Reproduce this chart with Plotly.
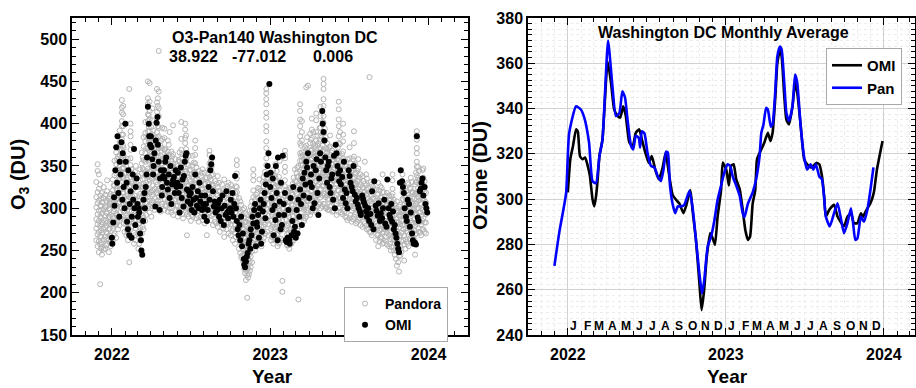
import calendar
import plotly.graph_objects as go

# ---------------- Left panel: individual retrievals ----------------
# Pandora total-column ozone (DU), grouped by observation day
PANDORA_OBS = [
    ("2021-11-26", [262, 276, 287, 301, 313, 331]),
    ("2021-11-29", [255, 269, 281, 293, 306, 319, 344, 352]),
    ("2021-12-02", [248, 261, 272, 285, 297, 309, 323, 340]),
    ("2021-12-05", [210, 257, 267, 279, 290, 303, 315, 328]),
    ("2021-12-07", [252, 259, 266, 274, 281, 288, 297, 303, 311]),
    ("2021-12-09", [245, 254, 271, 283, 294, 307, 318]),
    ("2021-12-13", [251, 263, 276, 286, 299, 312, 325]),
    ("2021-12-17", [252, 266, 277, 291, 302, 316]),
    ("2021-12-19", [256, 263, 272, 279, 286, 295, 301, 309]),
    ("2021-12-21", [258, 270, 283, 294, 307, 320, 333]),
    ("2021-12-25", [248, 263, 275, 289, 300, 311]),
    ("2021-12-27", [260, 268, 276, 283, 290, 298, 307, 314]),
    ("2021-12-29", [255, 267, 281, 292, 305, 317]),
    ("2022-01-03", [262, 276, 291, 304, 321, 334]),
    ("2022-01-05", [268, 279, 288, 296, 307, 316, 327]),
    ("2022-01-07", [270, 283, 299, 311, 327, 339, 356]),
    ("2022-01-11", [265, 281, 294, 310, 324, 341, 352, 366]),
    ("2022-01-13", [283, 292, 303, 312, 321, 331, 345, 358]),
    ("2022-01-15", [275, 289, 306, 317, 333, 345, 361, 372]),
    ("2022-01-19", [280, 295, 307, 323, 335, 351, 363, 378, 392]),
    ("2022-01-21", [288, 301, 314, 327, 343, 355, 370]),
    ("2022-01-24", [300, 313, 323, 337, 347, 361, 369, 381, 387, 397, 403, 413, 419, 428]),
    ("2022-01-27", [290, 306, 319, 335, 347, 363, 374, 387, 397, 411, 421]),
    ("2022-01-28", [282, 296, 309, 323, 336, 348, 362, 371]),
    ("2022-01-30", [272, 286, 297, 313, 325, 341, 354]),
    ("2022-02-03", [268, 281, 291, 305, 315, 329, 342]),
    ("2022-02-05", [274, 286, 297, 309, 320, 334]),
    ("2022-02-07", [262, 277, 289, 304, 315, 331, 344, 358]),
    ("2022-02-10", [236, 270, 285, 297, 313, 325, 341, 441]),
    ("2022-02-13", [290, 303, 313, 327, 337, 351, 359, 369, 375, 385, 391, 400]),
    ("2022-02-15", [278, 287, 296, 308, 319, 331, 346]),
    ("2022-02-17", [265, 279, 289, 303, 314, 329]),
    ("2022-02-21", [258, 271, 282, 297, 308, 323, 336]),
    ("2022-02-23", [268, 280, 291, 304, 315, 328, 343]),
    ("2022-02-25", [262, 276, 287, 301, 311, 326, 337, 350]),
    ("2022-03-03", [252, 269, 281, 297, 309, 325, 338]),
    ("2022-03-05", [258, 273, 286, 299, 314, 327]),
    ("2022-03-07", [262, 277, 289, 305, 317, 333, 346]),
    ("2022-03-11", [270, 285, 297, 313, 325, 341, 353, 366]),
    ("2022-03-13", [278, 291, 306, 321, 334, 347, 360]),
    ("2022-03-15", [275, 289, 301, 317, 329, 345, 357, 373, 384]),
    ("2022-03-19", [285, 299, 311, 327, 339, 355, 365, 379, 389, 402]),
    ("2022-03-21", [292, 306, 318, 330, 344, 358, 371, 385]),
    ("2022-03-25", [300, 313, 323, 337, 347, 361, 371, 383, 391, 403, 411, 423, 430, 450]),
    ("2022-03-27", [303, 317, 329, 341, 355, 369, 379, 396, 410]),
    ("2022-03-29", [295, 309, 319, 333, 343, 357, 367, 381, 391, 405, 415, 426, 448]),
    ("2022-04-02", [290, 306, 319, 336, 349, 366, 379, 396]),
    ("2022-04-04", [309, 321, 335, 349, 361, 374, 387, 404, 418]),
    ("2022-04-06", [302, 316, 327, 342, 353, 368, 379, 392]),
    ("2022-04-10", [298, 312, 323, 338, 349, 364, 376]),
    ("2022-04-13", [304, 318, 331, 343, 357, 371, 383]),
    ("2022-04-15", [305, 318, 328, 342, 352, 366, 376, 390, 400, 414, 425, 441]),
    ("2022-04-17", [309, 321, 335, 347, 360, 373, 384, 397, 408, 421, 430]),
    ("2022-04-19", [300, 313, 323, 337, 347, 361, 371, 385, 395, 409, 418, 438, 486]),
    ("2022-04-23", [296, 310, 321, 336, 347, 362, 374]),
    ("2022-04-25", [302, 316, 328, 340, 353, 368, 380]),
    ("2022-04-27", [305, 319, 330, 345, 356, 371, 382, 395]),
    ("2022-05-02", [298, 311, 321, 335, 345, 359, 369, 383, 394]),
    ("2022-05-04", [304, 318, 330, 342, 356, 370]),
    ("2022-05-06", [302, 315, 325, 339, 349, 362]),
    ("2022-05-10", [296, 309, 319, 333, 343, 357, 367, 380]),
    ("2022-05-12", [306, 317, 330, 342, 352, 363, 375]),
    ("2022-05-14", [300, 313, 323, 337, 347, 361, 390]),
    ("2022-05-18", [295, 308, 318, 332, 342, 356, 367]),
    ("2022-05-20", [300, 313, 326, 339, 350, 361]),
    ("2022-05-22", [292, 305, 315, 329, 339, 353, 364, 398]),
    ("2022-05-27", [298, 311, 321, 335, 345, 358]),
    ("2022-05-29", [303, 317, 328, 341, 352]),
    ("2022-06-02", [290, 303, 313, 327, 337, 350]),
    ("2022-06-04", [297, 310, 321, 332, 345, 357]),
    ("2022-06-06", [294, 307, 317, 331, 341, 355, 366]),
    ("2022-06-10", [298, 311, 321, 335, 345, 359, 369, 382, 402]),
    ("2022-06-12", [293, 305, 318, 331, 342, 353, 364]),
    ("2022-06-14", [288, 301, 311, 325, 335, 348]),
    ("2022-06-19", [300, 312, 321, 334, 343, 356, 365, 377, 383, 393, 400]),
    ("2022-06-21", [296, 309, 320, 331, 344, 357, 370, 386]),
    ("2022-06-23", [268, 293, 303, 317, 327, 341, 352]),
    ("2022-06-27", [290, 303, 313, 327, 337, 351, 362]),
    ("2022-06-29", [296, 308, 321, 334, 345]),
    ("2022-07-02", [285, 298, 308, 322, 332, 345]),
    ("2022-07-04", [292, 305, 316, 327, 340]),
    ("2022-07-06", [290, 303, 313, 327, 337, 351, 362]),
    ("2022-07-09", [295, 307, 318, 329, 342, 354]),
    ("2022-07-12", [296, 309, 319, 333, 343, 353, 363, 371, 380]),
    ("2022-07-15", [288, 301, 311, 325, 335, 348]),
    ("2022-07-18", [291, 304, 315, 326, 339]),
    ("2022-07-20", [284, 297, 307, 321, 331, 344]),
    ("2022-07-25", [290, 303, 313, 327, 338]),
    ("2022-07-27", [294, 305, 318, 331, 342]),
    ("2022-07-29", [286, 299, 309, 323, 333, 346]),
    ("2022-08-03", [282, 295, 305, 319, 329, 342]),
    ("2022-08-05", [289, 301, 312, 323, 336]),
    ("2022-08-08", [268, 289, 299, 313, 323, 336]),
    ("2022-08-11", [293, 304, 317, 330, 341]),
    ("2022-08-14", [295, 307, 316, 329, 337, 347, 353, 363, 368]),
    ("2022-08-17", [286, 299, 309, 323, 333, 347, 356]),
    ("2022-08-19", [291, 302, 315, 328, 339, 350]),
    ("2022-08-22", [280, 293, 303, 317, 327, 340]),
    ("2022-08-27", [284, 297, 307, 321, 332]),
    ("2022-08-30", [282, 293, 306, 317, 329]),
    ("2022-09-02", [278, 291, 301, 315, 325, 338]),
    ("2022-09-05", [284, 295, 307, 320, 330]),
    ("2022-09-07", [272, 285, 295, 309, 320]),
    ("2022-09-12", [280, 293, 303, 317, 328]),
    ("2022-09-15", [276, 288, 298, 310, 321]),
    ("2022-09-17", [266, 279, 289, 303, 313, 334]),
    ("2022-09-22", [275, 288, 298, 312, 323]),
    ("2022-09-25", [281, 291, 303, 316, 326]),
    ("2022-09-27", [270, 283, 293, 307, 317, 330]),
    ("2022-10-02", [268, 281, 291, 305, 315, 328]),
    ("2022-10-05", [273, 286, 297, 308, 321]),
    ("2022-10-07", [262, 275, 285, 299, 309, 322]),
    ("2022-10-12", [258, 271, 281, 295, 305, 318]),
    ("2022-10-14", [266, 276, 289, 302, 313, 326]),
    ("2022-10-16", [288, 299, 307, 319, 325, 335, 341, 351, 357]),
    ("2022-10-21", [252, 265, 275, 289, 299, 312]),
    ("2022-10-24", [247, 261, 272, 283, 296, 308]),
    ("2022-10-26", [242, 257, 267, 281, 291, 304]),
    ("2022-10-28", [244, 255, 268, 281, 292]),
    ("2022-10-30", [238, 251, 261, 275, 285, 298]),
    ("2022-11-02", [228, 241, 251, 265, 275, 289, 300]),
    ("2022-11-04", [223, 235, 246, 257, 270, 283, 294]),
    ("2022-11-06", [215, 226, 235, 249, 259, 273, 284]),
    ("2022-11-09", [194, 221, 231, 245, 255, 269, 279, 292]),
    ("2022-11-11", [218, 229, 240, 251, 263, 276, 287]),
    ("2022-11-13", [222, 235, 245, 259, 269, 282]),
    ("2022-11-15", [226, 237, 250, 263, 273, 285, 297]),
    ("2022-11-17", [230, 243, 253, 267, 277, 291, 302]),
    ("2022-11-20", [236, 249, 260, 271, 284, 297, 308]),
    ("2022-11-23", [262, 273, 281, 293, 301, 313, 321, 333, 339, 346]),
    ("2022-11-27", [250, 263, 273, 287, 297, 310]),
    ("2022-11-29", [256, 267, 280, 293, 304, 316]),
    ("2022-12-02", [258, 271, 281, 295, 305, 318]),
    ("2022-12-04", [264, 275, 288, 301, 312, 324]),
    ("2022-12-07", [262, 275, 285, 299, 309, 323, 334]),
    ("2022-12-10", [259, 271, 284, 296, 309, 321]),
    ("2022-12-12", [255, 268, 278, 292, 302, 315]),
    ("2022-12-15", [261, 274, 285, 298, 309, 320, 331]),
    ("2022-12-17", [265, 278, 288, 302, 312, 326, 337]),
    ("2022-12-20", [270, 281, 294, 307, 318, 330, 343]),
    ("2022-12-23", [300, 311, 319, 331, 339, 351, 359, 371, 379, 391, 397, 407, 413, 423, 429, 436, 441]),
    ("2022-12-26", [272, 285, 298, 311, 323, 335]),
    ("2022-12-28", [268, 281, 291, 305, 315, 329, 340]),
    ("2023-01-03", [262, 275, 285, 299, 309, 323, 334]),
    ("2023-01-05", [266, 278, 292, 305, 317, 328, 340]),
    ("2023-01-08", [258, 271, 281, 295, 305, 319, 329, 345]),
    ("2023-01-11", [262, 277, 289, 301, 314, 324, 338]),
    ("2023-01-13", [265, 278, 288, 302, 312, 326, 336, 352]),
    ("2023-01-16", [269, 281, 295, 308, 320, 332, 344]),
    ("2023-01-18", [255, 268, 278, 292, 302, 316, 327]),
    ("2023-01-21", [258, 274, 287, 299, 312, 326, 337]),
    ("2023-01-23", [260, 273, 283, 297, 307, 321, 331, 356]),
    ("2023-01-26", [264, 277, 291, 304, 316, 328]),
    ("2023-01-29", [201, 214, 262, 275, 285, 299, 310]),
    ("2023-02-04", [295, 306, 314, 326, 333, 343, 349, 359, 363, 368]),
    ("2023-02-07", [262, 275, 286, 297, 310, 322]),
    ("2023-02-09", [256, 269, 279, 293, 303, 316]),
    ("2023-02-12", [256, 271, 282, 295, 307, 320]),
    ("2023-02-14", [252, 265, 275, 289, 299, 313, 324]),
    ("2023-02-17", [261, 273, 286, 298, 311, 323]),
    ("2023-02-19", [258, 271, 281, 295, 305, 318]),
    ("2023-02-22", [266, 280, 291, 303, 316, 329]),
    ("2023-02-24", [262, 275, 285, 299, 309, 323, 336]),
    ("2023-02-27", [272, 283, 296, 309, 320, 332, 346]),
    ("2023-03-03", [270, 283, 293, 307, 317, 331, 342]),
    ("2023-03-05", [276, 289, 300, 311, 324, 337, 348]),
    ("2023-03-07", [192, 279, 289, 303, 313, 327, 337, 350]),
    ("2023-03-11", [300, 312, 321, 334, 343, 356, 365, 377, 385, 397, 405, 415, 423]),
    ("2023-03-13", [290, 303, 314, 325, 338, 351, 362, 374]),
    ("2023-03-15", [295, 308, 318, 332, 342, 356, 366, 380, 390, 403]),
    ("2023-03-17", [290, 302, 315, 328, 339, 351, 363]),
    ("2023-03-20", [285, 298, 308, 322, 332, 346, 357]),
    ("2023-03-22", [288, 301, 312, 323, 336, 349, 361, 372]),
    ("2023-03-25", [290, 303, 313, 327, 337, 351, 361, 374, 443]),
    ("2023-03-27", [298, 309, 322, 335, 346, 358, 370, 384]),
    ("2023-03-29", [295, 308, 318, 332, 342, 356, 367, 445]),
    ("2023-04-03", [292, 305, 315, 329, 339, 353, 363, 377, 388]),
    ("2023-04-05", [296, 309, 320, 331, 344, 357, 368, 381]),
    ("2023-04-07", [298, 311, 321, 335, 345, 359, 369, 383, 393, 406]),
    ("2023-04-10", [302, 314, 327, 341, 352, 365, 376, 390]),
    ("2023-04-12", [300, 313, 323, 337, 347, 361, 372]),
    ("2023-04-15", [298, 312, 324, 335, 349, 362, 374]),
    ("2023-04-17", [295, 308, 318, 332, 342, 356, 366, 380, 390, 404, 412]),
    ("2023-04-20", [302, 315, 326, 337, 350, 363, 374, 386]),
    ("2023-04-22", [305, 318, 328, 342, 352, 366, 377]),
    ("2023-04-25", [306, 317, 331, 344, 356, 367, 381, 395]),
    ("2023-04-27", [300, 313, 323, 337, 347, 361, 371, 385, 395, 409, 420]),
    ("2023-05-02", [302, 315, 326, 337, 350, 363, 374, 388, 402]),
    ("2023-05-04", [305, 317, 326, 339, 348, 361, 369, 381, 389, 401, 409, 421, 429, 441, 447, 453]),
    ("2023-05-07", [305, 317, 330, 344, 355, 367, 380, 394]),
    ("2023-05-09", [300, 313, 323, 337, 347, 361, 371, 384]),
    ("2023-05-12", [301, 315, 327, 339, 352, 366, 377]),
    ("2023-05-14", [298, 311, 321, 335, 345, 359, 370]),
    ("2023-05-17", [298, 310, 323, 337, 348, 359, 372]),
    ("2023-05-19", [302, 315, 325, 339, 349, 363, 373, 386]),
    ("2023-05-22", [303, 317, 328, 340, 353, 366]),
    ("2023-05-24", [296, 309, 319, 333, 343, 357, 368]),
    ("2023-05-27", [297, 310, 321, 332, 345, 357]),
    ("2023-05-29", [300, 313, 323, 337, 347, 360]),
    ("2023-06-03", [292, 305, 315, 329, 339, 353, 364]),
    ("2023-06-06", [296, 308, 321, 335, 346, 358, 372]),
    ("2023-06-08", [300, 312, 321, 334, 343, 356, 365, 377, 385, 397, 405, 417, 426]),
    ("2023-06-11", [301, 313, 326, 339, 350, 361, 376, 390]),
    ("2023-06-13", [295, 308, 318, 332, 342, 355]),
    ("2023-06-16", [293, 306, 317, 328, 341, 352, 364]),
    ("2023-06-18", [298, 311, 321, 335, 345, 359, 367, 379, 387, 400]),
    ("2023-06-21", [296, 307, 320, 333, 344, 356]),
    ("2023-06-23", [290, 303, 313, 327, 337, 350]),
    ("2023-06-26", [289, 302, 313, 324, 337, 349]),
    ("2023-06-28", [286, 299, 309, 323, 333, 347, 358]),
    ("2023-07-03", [288, 301, 311, 325, 335, 349, 359, 372]),
    ("2023-07-05", [292, 303, 316, 329, 340, 353]),
    ("2023-07-08", [284, 297, 307, 321, 331, 344]),
    ("2023-07-11", [287, 300, 311, 322, 335, 347, 358]),
    ("2023-07-13", [290, 303, 313, 327, 337, 351, 361, 377, 391]),
    ("2023-07-16", [293, 304, 317, 330, 341, 352]),
    ("2023-07-18", [282, 295, 305, 319, 329, 342]),
    ("2023-07-21", [284, 297, 308, 319, 332, 344]),
    ("2023-07-23", [286, 299, 309, 323, 333, 347, 358]),
    ("2023-07-26", [288, 299, 312, 325, 336]),
    ("2023-07-28", [280, 293, 303, 317, 327, 340]),
    ("2023-08-02", [278, 291, 301, 315, 325, 338]),
    ("2023-08-05", [284, 297, 308, 319, 332]),
    ("2023-08-07", [282, 295, 305, 319, 329, 355]),
    ("2023-08-10", [279, 290, 303, 316, 327, 340]),
    ("2023-08-12", [275, 288, 298, 312, 322, 335]),
    ("2023-08-15", [276, 289, 300, 311, 324]),
    ("2023-08-18", [272, 285, 295, 309, 319, 455]),
    ("2023-08-21", [271, 282, 295, 308, 319, 331]),
    ("2023-08-23", [268, 281, 291, 305, 315, 328]),
    ("2023-08-26", [277, 290, 301, 312, 325]),
    ("2023-08-28", [274, 287, 297, 311, 322]),
    ("2023-09-02", [262, 275, 285, 299, 309, 322]),
    ("2023-09-05", [268, 279, 292, 305, 316]),
    ("2023-09-07", [255, 269, 279, 293, 303, 317, 330]),
    ("2023-09-10", [261, 274, 285, 296, 309, 321]),
    ("2023-09-12", [266, 279, 289, 303, 313, 326]),
    ("2023-09-15", [264, 275, 288, 301, 312, 324]),
    ("2023-09-17", [258, 271, 281, 295, 305, 319, 340]),
    ("2023-09-20", [259, 272, 283, 294, 307, 319]),
    ("2023-09-22", [262, 275, 285, 299, 310]),
    ("2023-09-25", [266, 277, 290, 303, 314]),
    ("2023-09-27", [257, 271, 281, 295, 305, 318]),
    ("2023-10-02", [255, 268, 278, 292, 302, 315]),
    ("2023-10-04", [258, 271, 282, 293, 306]),
    ("2023-10-06", [250, 263, 273, 287, 297, 310]),
    ("2023-10-08", [254, 265, 278, 291, 302, 314]),
    ("2023-10-10", [290, 301, 307, 317, 323, 333, 340]),
    ("2023-10-13", [250, 263, 274, 285, 298, 310]),
    ("2023-10-15", [245, 258, 268, 282, 292, 305]),
    ("2023-10-18", [240, 251, 264, 277, 288, 300]),
    ("2023-10-20", [232, 249, 259, 273, 283, 297, 308]),
    ("2023-10-23", [236, 248, 259, 270, 283, 295]),
    ("2023-10-25", [225, 243, 253, 267, 277, 291, 302]),
    ("2023-10-28", [244, 255, 268, 281, 292, 304]),
    ("2023-10-30", [248, 261, 271, 285, 296]),
    ("2023-11-02", [280, 291, 299, 311, 319, 331, 340]),
    ("2023-11-04", [262, 275, 286, 297, 310, 322]),
    ("2023-11-06", [238, 257, 267, 281, 291, 304]),
    ("2023-11-09", [252, 263, 276, 289, 300, 312]),
    ("2023-11-11", [260, 273, 283, 297, 307, 320]),
    ("2023-11-14", [258, 271, 282, 293, 306, 318, 330]),
    ("2023-11-16", [255, 268, 278, 292, 302, 316, 328]),
    ("2023-11-19", [264, 275, 288, 301, 312, 324]),
    ("2023-11-21", [262, 275, 285, 299, 309, 323, 336]),
    ("2023-11-24", [259, 272, 283, 294, 307, 319, 331]),
    ("2023-11-26", [258, 271, 281, 295, 305, 318]),
    ("2023-11-29", [263, 274, 287, 300, 311]),
    ("2023-12-01", [245, 269, 279, 293, 303, 317, 328]),
    ("2023-12-03", [270, 283, 294, 305, 318, 331, 342]),
    ("2023-12-05", [300, 311, 319, 331, 339, 349, 355, 365, 371, 381, 386, 391]),
    ("2023-12-08", [276, 287, 300, 313, 324, 336, 349]),
    ("2023-12-10", [272, 285, 295, 309, 319, 333, 344]),
    ("2023-12-13", [271, 284, 295, 306, 319, 331]),
    ("2023-12-15", [268, 281, 291, 305, 315, 328]),
    ("2023-12-18", [274, 285, 298, 311, 322, 334, 345]),
    ("2023-12-20", [275, 288, 298, 312, 322, 336, 347]),
    ("2023-12-23", [272, 283, 296, 309, 320, 332]),
    ("2023-12-26", [270, 283, 293, 307, 318]),
]

# OMI overpass ozone (DU), daily values in time order within each month
OMI_DAILY = {
    "2022-01": [265, 258, 283, 313, 303, 345, 372, 330, 385, 318, 290, 355, 340, 378, 310, 365, 325, 300],
    "2022-02": [400, 355, 330, 284, 275, 345, 268, 305, 320, 265, 290, 340, 310, 370, 300, 280, 325, 335],
    "2022-03": [305, 290, 300, 295, 270, 262, 250, 245, 285, 310, 318, 300, 325, 340, 360, 420, 400, 385, 375],
    "2022-04": [385, 372, 358, 340, 350, 365, 302, 380, 401, 408, 375, 355, 298, 335, 345, 315, 325, 338],
    "2022-05": [345, 335, 355, 360, 330, 322, 340, 312, 350, 305, 328, 333, 337, 318, 345, 325],
    "2022-06": [330, 342, 318, 295, 326, 348, 312, 334, 302, 338, 355, 362, 365, 322, 308, 320, 315],
    "2022-07": [305, 318, 298, 325, 310, 295, 340, 312, 303, 320, 300, 330, 308, 315, 298, 305],
    "2022-08": [300, 290, 315, 305, 285, 298, 325, 310, 345, 352, 360, 320, 302, 308, 295, 300],
    "2022-09": [298, 306, 290, 310, 285, 300, 315, 280, 303, 292, 320, 295, 288, 298],
    "2022-10": [300, 310, 295, 318, 290, 305, 338, 300, 285, 275, 268, 280, 262, 290, 255, 270],
    "2022-11": [240, 233, 230, 237, 243, 247, 258, 262, 252, 275, 268, 290, 282, 298, 305, 255],
    "2022-12": [283, 278, 292, 265, 300, 310, 258, 272, 296, 305, 318, 288, 328, 340, 350, 365, 447],
    "2023-01": [325, 342, 312, 298, 335, 268, 303, 286, 350, 318, 262, 360, 292, 308, 275, 330, 280, 362],
    "2023-02": [305, 292, 318, 262, 260, 265, 298, 263, 258, 312, 268, 285, 325, 272, 278],
    "2023-03": [265, 298, 270, 310, 290, 322, 305, 280, 335, 315, 342, 328, 355, 348, 365],
    "2023-04": [312, 330, 340, 325, 300, 350, 306, 345, 358, 318, 292, 335, 365, 355],
    "2023-05": [415, 400, 390, 380, 360, 345, 330, 350, 355, 325, 318, 335, 340, 310, 362, 300],
    "2023-06": [375, 365, 350, 341, 332, 345, 328, 337, 312, 355, 322, 306, 318, 300],
    "2023-07": [345, 338, 330, 325, 320, 350, 316, 308, 312, 304, 300, 296, 292],
    "2023-08": [315, 311, 307, 303, 296, 290, 300, 285, 293, 280, 320, 275, 332],
    "2023-09": [303, 297, 291, 306, 285, 294, 288, 300, 310, 282, 278, 334],
    "2023-10": [300, 292, 288, 305, 284, 296, 275, 280, 270, 265, 258, 252, 248, 330, 345],
    "2023-11": [332, 325, 318, 300, 290, 285, 310, 305, 278, 295, 270, 262, 258],
    "2023-12": [259, 257, 385, 289, 285, 320, 323, 330, 335, 315, 325, 305, 300, 295],
}

# ---------------- Right panel: smoothed averages ----------------
OMI_AVG_DATES = [
    "2022-01-01", "2022-01-07", "2022-01-13", "2022-01-20", "2022-01-24", "2022-01-29",
    "2022-02-04", "2022-02-10", "2022-02-16", "2022-02-21", "2022-02-27", "2022-03-03",
    "2022-03-07", "2022-03-11", "2022-03-15", "2022-03-22", "2022-04-03", "2022-04-11",
    "2022-04-18", "2022-04-26", "2022-05-02", "2022-05-09", "2022-05-15", "2022-05-23",
    "2022-05-31", "2022-06-07", "2022-06-15", "2022-06-21", "2022-06-29", "2022-07-07",
    "2022-07-14", "2022-07-22", "2022-07-30", "2022-08-07", "2022-08-15", "2022-08-22",
    "2022-08-31", "2022-09-08", "2022-09-16", "2022-09-25", "2022-10-01", "2022-10-11",
    "2022-10-16", "2022-10-24", "2022-11-01", "2022-11-06", "2022-11-12", "2022-11-18",
    "2022-11-26", "2022-12-03", "2022-12-07", "2022-12-13", "2022-12-21", "2022-12-25",
    "2023-01-02", "2023-01-08", "2023-01-13", "2023-01-19", "2023-01-25", "2023-02-02",
    "2023-02-09", "2023-02-15", "2023-02-21", "2023-02-26", "2023-03-04", "2023-03-10",
    "2023-03-14", "2023-03-24", "2023-03-31", "2023-04-08", "2023-04-14", "2023-04-19",
    "2023-04-25", "2023-04-30", "2023-05-06", "2023-05-10", "2023-05-16", "2023-05-21",
    "2023-05-27", "2023-06-04", "2023-06-10", "2023-06-15", "2023-06-23", "2023-07-01",
    "2023-07-08", "2023-07-16", "2023-07-22", "2023-07-29", "2023-08-05", "2023-08-11",
    "2023-08-16", "2023-08-20", "2023-08-28", "2023-09-08", "2023-09-16", "2023-09-23",
    "2023-10-01", "2023-10-09", "2023-10-17", "2023-10-24", "2023-11-01", "2023-11-09",
    "2023-11-14", "2023-11-22", "2023-12-01", "2023-12-09", "2023-12-16", "2023-12-29",
]
OMI_AVG = [
    303, 318, 323.5, 330.8, 330, 319,
    317.6, 318.4, 314.7, 310.3, 300, 296.8,
    301, 308.8, 319, 326.4, 360.8, 351,
    339.6, 336.7, 336, 341, 336.7, 325,
    323.5, 329.3, 330.8, 326.4, 320.6, 316,
    319, 313, 308.8, 313, 320.6, 312,
    302, 299.7, 298, 293.8, 296.8, 304,
    295.3, 282, 262.8, 251, 260, 274.6,
    285, 282, 279.8, 292.3, 304, 316.2,
    313, 306, 314.7, 315.4, 308.8, 304.5,
    295.3, 286.4, 282, 283.5, 298, 304,
    317.6, 322, 325, 329.3, 325.7, 329.3,
    344, 360, 366, 363, 345.5, 335,
    333, 341, 351.3, 347, 332.3, 317.6,
    315.4, 314, 314.7, 316, 315.4, 310.3,
    301.5, 292.3, 295.3, 297.5, 292.3, 290,
    288, 292.3, 293.8, 289.4, 289.4, 293.8,
    292.3, 295.3, 298.2, 303, 313, 325.7,
]

PAN_AVG_DATES = [
    "2021-12-01", "2021-12-12", "2021-12-28", "2022-01-04", "2022-01-20", "2022-01-31",
    "2022-02-08", "2022-02-19", "2022-02-27", "2022-03-07", "2022-03-15", "2022-03-22",
    "2022-04-04", "2022-04-14", "2022-04-22", "2022-04-30", "2022-05-07", "2022-05-13",
    "2022-05-19", "2022-05-27", "2022-06-01", "2022-06-07", "2022-06-14", "2022-06-17",
    "2022-06-21", "2022-06-27", "2022-07-04", "2022-07-12", "2022-07-20", "2022-07-28",
    "2022-08-04", "2022-08-10", "2022-08-16", "2022-08-20", "2022-08-25", "2022-08-31",
    "2022-09-06", "2022-09-12", "2022-09-19", "2022-09-27", "2022-10-09", "2022-10-16",
    "2022-10-24", "2022-11-01", "2022-11-07", "2022-11-12", "2022-11-20", "2022-11-28",
    "2022-12-05", "2022-12-13", "2022-12-21", "2022-12-29", "2023-01-05", "2023-01-11",
    "2023-01-17", "2023-01-25", "2023-02-02", "2023-02-09", "2023-02-13", "2023-02-21",
    "2023-03-04", "2023-03-12", "2023-03-20", "2023-03-24", "2023-03-29", "2023-04-04",
    "2023-04-08", "2023-04-15", "2023-04-19", "2023-04-25", "2023-04-30", "2023-05-06",
    "2023-05-10", "2023-05-16", "2023-05-21", "2023-05-27", "2023-06-04", "2023-06-10",
    "2023-06-15", "2023-06-23", "2023-07-01", "2023-07-08", "2023-07-16", "2023-07-22",
    "2023-07-28", "2023-08-05", "2023-08-11", "2023-08-16", "2023-08-20", "2023-08-29",
    "2023-09-08", "2023-09-16", "2023-09-23", "2023-10-01", "2023-10-09", "2023-10-17",
    "2023-10-22", "2023-10-27", "2023-11-01", "2023-11-09", "2023-11-16", "2023-11-24",
    "2023-12-01", "2023-12-08",
]
PAN_AVG = [
    270.5, 285, 302.6, 329, 341, 339.6,
    336, 325, 308, 307, 319, 326,
    370, 350, 336.7, 338, 347.6, 345,
    335, 323.5, 322, 328, 327, 322.8,
    330, 329, 320.6, 314.7, 314, 310,
    308, 313, 321, 320.6, 306, 298,
    293.8, 296.8, 296.8, 297.5, 303.7, 296.7,
    282, 267, 258.4, 264, 279, 283.5,
    290, 299.7, 306, 312, 315.4, 314.7,
    310, 306, 301.5, 293.8, 292, 298,
    303, 308.8, 319, 329.3, 333, 340.3,
    339.6, 332, 333, 347, 363, 367.4,
    366, 351.3, 338, 334.5, 341, 355,
    351.3, 332, 318.4, 313, 315.4, 313,
    315.4, 310, 308.8, 300.8, 292.3, 288,
    293.8, 298.2, 292.3, 285, 289.4, 296,
    289.4, 282, 282.7, 292.3, 290, 295.3,
    304, 314,
]

MONTH_LETTERS = ["J", "F", "M", "A", "M", "J", "J", "A", "S", "O", "N", "D"]
LETTER_YEARS = [2022, 2023]

# ---------------- Expand the grouped data ----------------
pandora_x, pandora_y = [], []
for day, values in PANDORA_OBS:
    for v in values:
        pandora_x.append(day)
        pandora_y.append(v)

omi_x, omi_y = [], []
for ym, values in OMI_DAILY.items():
    yr, mo = int(ym[:4]), int(ym[5:])
    ndays = calendar.monthrange(yr, mo)[1]
    for i, v in enumerate(values):
        day = 1 + int(i * ndays / len(values))
        omi_x.append(f"{ym}-{day:02d}")
        omi_y.append(v)

FONT = "Liberation Sans"
GRID = "#d2d2d2"
MINOR_GRID = "#ececec"

fig = go.Figure()

fig.add_trace(go.Scatter(
    x=pandora_x, y=pandora_y, mode="markers", name="Pandora",
    marker=dict(symbol="circle-open", size=5, color="#b4b4b4", line=dict(width=1, color="#b4b4b4")),
    xaxis="x", yaxis="y", legend="legend",
))
fig.add_trace(go.Scatter(
    x=omi_x, y=omi_y, mode="markers", name="OMI",
    marker=dict(symbol="circle", size=6, color="black"),
    xaxis="x", yaxis="y", legend="legend",
))
fig.add_trace(go.Scatter(
    x=OMI_AVG_DATES, y=OMI_AVG, mode="lines", name="OMI",
    line=dict(color="black", width=2.6, shape="spline", smoothing=0.5),
    xaxis="x2", yaxis="y2", legend="legend2",
))
fig.add_trace(go.Scatter(
    x=PAN_AVG_DATES, y=PAN_AVG, mode="lines", name="Pan",
    line=dict(color="#0000ff", width=2.6, shape="spline", smoothing=0.5),
    xaxis="x2", yaxis="y2", legend="legend2",
))

tickfont = dict(family=FONT, size=16, color="black", weight="bold")
common_x = dict(
    type="date", showline=True, linecolor="black", linewidth=1.5, mirror="ticks",
    ticks="inside", ticklen=7, tickwidth=1.2, tickcolor="black",
    dtick="M12", tick0="2022-01-01", tickformat="%Y", tickfont=tickfont,
    ticklabelstandoff=4, automargin=False,
    zeroline=False,
)
common_y = dict(
    showline=True, linecolor="black", linewidth=1.5, mirror="ticks",
    ticks="inside", ticklen=7, tickwidth=1.2, tickcolor="black",
    tickfont=tickfont, zeroline=False, automargin=False,
)

ydom = [53 / 388, 370 / 388]
fig.update_layout(
    width=916, height=388,
    margin=dict(l=0, r=0, t=0, b=0),
    paper_bgcolor="white", plot_bgcolor="white",
    font=dict(family=FONT, color="black", weight="bold"),
    xaxis=dict(
        **common_x, domain=[72 / 916, 468 / 916],
        range=["2021-10-01", "2024-04-01"], showgrid=False,
        minor=dict(dtick="M1", ticks="inside", ticklen=4, tickcolor="black", showgrid=False),
    ),
    yaxis=dict(
        **common_y, domain=ydom, range=[150, 525], dtick=50, showgrid=False,
        minor=dict(dtick=10, ticks="inside", ticklen=4, tickcolor="black", showgrid=False),
    ),
    xaxis2=dict(
        **common_x, domain=[528 / 916, 915 / 916], anchor="y2",
        range=["2021-10-01", "2024-03-13"],
        showgrid=True, gridcolor=GRID, gridwidth=1,
        minor=dict(dtick="M1", ticks="inside", ticklen=4, tickcolor="black",
                   showgrid=True, gridcolor=MINOR_GRID, griddash="dot", gridwidth=1),
    ),
    yaxis2=dict(
        **common_y, domain=ydom, anchor="x2", range=[240, 380], dtick=20,
        showgrid=True, gridcolor=GRID, gridwidth=1,
        minor=dict(dtick=2.5, ticks="inside", ticklen=4, tickcolor="black",
                   showgrid=True, gridcolor=MINOR_GRID, griddash="dot", gridwidth=1),
    ),
    legend=dict(
        x=344 / 916, y=1 - 287 / 388, xanchor="left", yanchor="top",
        bgcolor="white", bordercolor="#a8a8a8", borderwidth=1,
        font=dict(family=FONT, size=14, color="black", weight="bold"),
        tracegroupgap=0, itemwidth=30,
    ),
    legend2=dict(
        x=826 / 916, y=1 - 48 / 388, xanchor="left", yanchor="top",
        bgcolor="white", bordercolor="#a8a8a8", borderwidth=1,
        font=dict(family=FONT, size=15, color="black", weight="bold"),
        tracegroupgap=0, itemwidth=30,
    ),
    showlegend=True,
)

def label(text, x, y, size, xref="paper", yref="paper", angle=0):
    fig.add_annotation(
        text=text, x=x, y=y, xref=xref, yref=yref, showarrow=False,
        textangle=angle, xanchor="center", yanchor="middle",
        font=dict(family=FONT, size=size, color="black", weight="bold"),
    )

# panel titles and header values
label("O3-Pan140 Washington DC", 0.513, 0.94, 16, "x domain", "y domain")
label("38.922", 0.308, 0.877, 16, "x domain", "y domain")
label("-77.012", 0.472, 0.877, 16, "x domain", "y domain")
label("0.006", 0.659, 0.877, 16, "x domain", "y domain")
label("Washington DC Monthly Average", 0.504, 0.953, 16, "x2 domain", "y2 domain")

# axis titles
label("Year", 272 / 916, 1 - 376 / 388, 19)
label("Year", 727 / 916, 1 - 376 / 388, 19)
label("O<sub>3</sub> (DU)", 20 / 916, 1 - 175 / 388, 20, angle=-90)
label("Ozone (DU)", 480 / 916, 1 - 176 / 388, 20, angle=-90)

# month initials along the bottom of the averages panel
for yr in LETTER_YEARS:
    for m, letter in enumerate(MONTH_LETTERS, start=1):
        label(letter, f"{yr}-{m:02d}-15", 0.027, 12, "x2", "y2 domain")

fig.write_html("out.html")
